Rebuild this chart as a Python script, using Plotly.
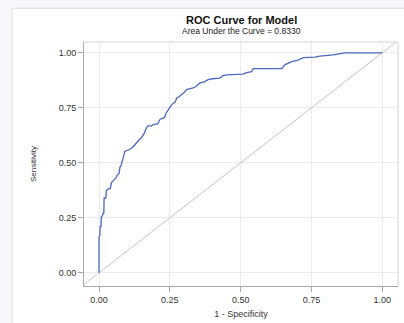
import plotly.graph_objects as go

# ROC curve points
fpr = [0, 0, 0.003, 0.004, 0.007, 0.008, 0.012, 0.014, 0.017, 0.018, 0.024, 0.026, 0.032, 0.036,
       0.040, 0.044, 0.047, 0.055, 0.059, 0.064, 0.068, 0.071, 0.074, 0.078, 0.085, 0.091, 0.098,
       0.106, 0.114, 0.120, 0.128, 0.138, 0.144, 0.150, 0.160, 0.168, 0.173, 0.185, 0.190, 0.200,
       0.208, 0.212, 0.216, 0.226, 0.232, 0.236, 0.244, 0.252, 0.261, 0.268, 0.275, 0.283, 0.291,
       0.300, 0.309, 0.322, 0.332, 0.344, 0.350, 0.356, 0.372, 0.385, 0.400, 0.426, 0.432, 0.438,
       0.450, 0.497, 0.509, 0.521, 0.539, 0.544, 0.645, 0.656, 0.668, 0.680, 0.700, 0.715, 0.721,
       0.762, 0.780, 0.827, 0.862, 0.868, 1.0]
tpr = [0, 0.16, 0.17, 0.21, 0.21, 0.25, 0.26, 0.27, 0.27, 0.34, 0.34, 0.375, 0.38, 0.384,
       0.384, 0.41, 0.414, 0.42, 0.43, 0.444, 0.45, 0.452, 0.48, 0.49, 0.52, 0.552, 0.556,
       0.56, 0.565, 0.572, 0.585, 0.596, 0.608, 0.614, 0.635, 0.66, 0.668, 0.668, 0.672, 0.676,
       0.678, 0.69, 0.698, 0.703, 0.708, 0.724, 0.743, 0.755, 0.77, 0.775, 0.796, 0.80, 0.81,
       0.818, 0.833, 0.836, 0.84, 0.848, 0.855, 0.863, 0.868, 0.878, 0.882, 0.885, 0.890, 0.896,
       0.900, 0.900, 0.903, 0.910, 0.914, 0.928, 0.928, 0.945, 0.952, 0.960, 0.965, 0.972, 0.978,
       0.98, 0.985, 0.99, 0.997, 1.0, 1.0]

diag = [-0.1, 1.1]
tick_vals = [0, 0.25, 0.5, 0.75, 1.0]
tick_text = ["0.00", "0.25", "0.50", "0.75", "1.00"]

title = "ROC Curve for Model"
subtitle = "Area Under the Curve = 0.8330"

FONT = "Liberation Sans, Arial, sans-serif"

fig = go.Figure()
fig.add_trace(go.Scatter(x=diag, y=diag, mode="lines",
                         line=dict(color="#c4c4c4", width=1), hoverinfo="skip"))
fig.add_trace(go.Scatter(x=fpr, y=tpr, mode="lines",
                         line=dict(color="#4a67c2", width=1.3)))

axis_common = dict(
    tickvals=tick_vals, ticktext=tick_text,
    showgrid=True, gridcolor="#ececec", gridwidth=1,
    zeroline=False, showline=True, linecolor="#a9a9a9", linewidth=1,
    ticks="outside", ticklen=5, tickcolor="#a9a9a9",
    tickfont=dict(family=FONT, size=9, color="#333333"),
)

fig.update_layout(
    width=404, height=323,
    margin=dict(l=84, r=6, t=42, b=34),
    paper_bgcolor="#f5f7fb", plot_bgcolor="white",
    showlegend=False,
    xaxis=dict(range=[-0.053, 1.0555],
               title=dict(text="1 - Specificity", standoff=6,
                          font=dict(family=FONT, size=9, color="#333333")),
               **axis_common),
    yaxis=dict(range=[-0.060, 1.049],
               title=dict(text="Sensitivity", standoff=20,
                          font=dict(family=FONT, size=8, color="#333333")),
               **axis_common),
    shapes=[
        dict(type="rect", xref="paper", yref="paper", x0=-0.229, x1=1.2, y0=-0.3, y1=1.138,
             fillcolor="white", line=dict(color="#dedede", width=1), layer="below"),
        dict(type="line", xref="paper", yref="paper", x0=0, x1=1, y0=1, y1=1,
             line=dict(color="#d4d4d4", width=1)),
        dict(type="line", xref="paper", yref="paper", x0=1, x1=1, y0=0, y1=1,
             line=dict(color="#d4d4d4", width=1)),
    ],
    annotations=[
        dict(text="<b>" + title + "</b>", xref="paper", yref="paper", x=0.5, y=1.0 + 22 / 247,
             showarrow=False, yanchor="middle",
             font=dict(family=FONT, size=11, color="#111111")),
        dict(text=subtitle, xref="paper", yref="paper", x=0.5, y=1.0 + 11 / 247,
             showarrow=False, yanchor="middle",
             font=dict(family=FONT, size=8.5, color="#222222")),
    ],
)

fig.write_html("out.html", config={"displayModeBar": False},
               post_script="document.body.style.margin='0';document.body.style.padding='0';")
